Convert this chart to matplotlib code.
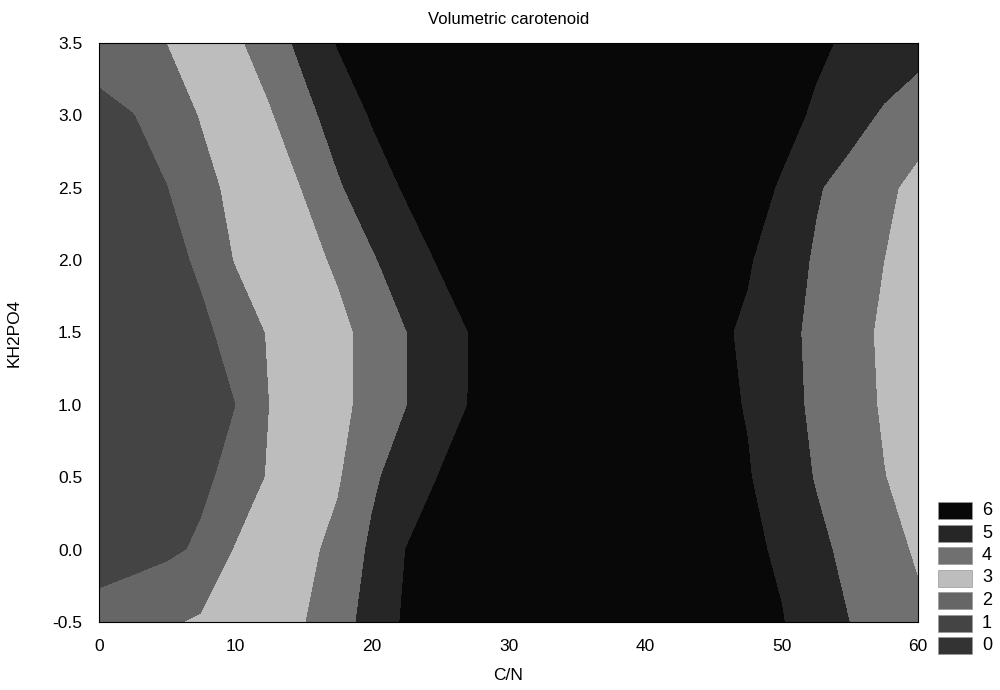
import numpy as np
import matplotlib
matplotlib.use("Agg")
import matplotlib.pyplot as plt
from matplotlib.patches import Rectangle

plt.rcParams['font.family'] = ['Liberation Sans', 'DejaVu Sans']

# ---- data ----
cn = [0, 2.5, 5, 7.5, 10, 12.5, 15, 17.5, 20, 22.5, 25, 27.5, 30, 32.5, 35,
      37.5, 40, 42.5, 45, 47.5, 50, 52.5, 55, 57.5, 60]
kh2po4 = [-0.5, 0.0, 0.5, 1.0, 1.5, 2.0, 2.5, 3.0, 3.5]

row_m05 = [1.5, 1.69, 1.88, 2.11, 2.39, 2.67, 2.96, 3.57, 4.38, 5.14, 5.48, 5.83, 6.0, 6.13, 6.15, 6.03, 5.9, 5.69, 5.47, 5.26, 5.04, 4.56, 3.99, 3.58, 3.15]
row_00 = [0.4, 0.61, 0.82, 1.13, 2.06, 2.40, 2.75, 3.26, 4.17, 5.01, 5.28, 5.54, 5.74, 5.85, 5.95, 5.85, 5.74, 5.58, 5.37, 5.16, 4.88, 4.25, 3.73, 3.27, 2.9]
row_05 = [0.15, 0.38, 0.60, 0.83, 1.25, 2.11, 2.5, 2.89, 3.82, 4.51, 5.04, 5.25, 5.47, 5.6, 5.67, 5.66, 5.58, 5.44, 5.25, 5.06, 4.56, 3.94, 3.48, 3.02, 2.7]
row_10 = [0.05, 0.29, 0.52, 0.76, 0.99, 2.0, 2.38, 2.77, 3.28, 3.97, 4.62, 5.09, 5.32, 5.52, 5.59, 5.64, 5.56, 5.45, 5.22, 4.95, 4.36, 3.81, 3.34, 2.91, 2.6]
row_15 = [0.05, 0.31, 0.56, 0.82, 1.28, 2.10, 2.44, 2.78, 3.26, 3.97, 4.59, 5.08, 5.31, 5.52, 5.59, 5.64, 5.56, 5.45, 5.19, 4.86, 4.3, 3.77, 3.29, 2.87, 2.55]
row_20 = [0.1, 0.41, 0.73, 1.13, 2.05, 2.39, 2.72, 3.12, 3.88, 4.57, 5.08, 5.30, 5.51, 5.65, 5.73, 5.78, 5.7, 5.62, 5.37, 5.09, 4.51, 3.88, 3.44, 3.0, 2.6]
row_25 = [0.2, 0.58, 0.97, 1.70, 2.23, 2.63, 3.03, 3.87, 4.58, 5.09, 5.33, 5.56, 5.73, 5.81, 5.89, 5.93, 5.84, 5.75, 5.58, 5.28, 4.93, 4.1, 3.61, 3.18, 2.75]
row_30 = [0.6, 0.96, 1.5, 2.05, 2.47, 2.90, 3.66, 4.45, 5.07, 5.33, 5.59, 5.82, 5.9, 5.98, 6.07, 6.05, 5.97, 5.88, 5.8, 5.51, 5.23, 4.9, 4.38, 3.87, 3.4]
row_35 = [1.6, 1.8, 2.0, 2.42, 2.83, 3.47, 4.28, 5.05, 5.33, 5.62, 5.9, 5.98, 6.05, 6.13, 6.2, 6.13, 6.05, 5.98, 5.9, 5.64, 5.39, 5.13, 4.88, 4.64, 4.4]

level_labels = ['0', '1', '2', '3', '4', '5', '6']
level_bounds = [-1, 0, 1, 2, 3, 4, 5, 7]
xticks = [0, 10, 20, 30, 40, 50, 60]
yticks = [-0.5, 0.0, 0.5, 1.0, 1.5, 2.0, 2.5, 3.0, 3.5]

# ---- styling ----
band_colors = ['#333333', '#444444', '#666666', '#bdbdbd', '#707070', '#262626', '#080808']

Z = np.array([row_m05, row_00, row_05, row_10, row_15, row_20, row_25, row_30, row_35])

W, H = 1000, 690
fig = plt.figure(figsize=(W / 100, H / 100), dpi=100)
ax = fig.add_axes([99 / W, (H - 622) / H, (918 - 99) / W, (622 - 43) / H])

ax.contourf(cn, kh2po4, Z, levels=level_bounds, colors=band_colors)
ax.set_xlim(0, 60)
ax.set_ylim(-0.5, 3.5)
ax.set_xticks(xticks)
ax.set_yticks(yticks)
ax.set_xticklabels([str(v) for v in xticks])
ax.set_yticklabels([f"{v:.1f}" for v in yticks])
ax.tick_params(length=0, labelsize=12.5, colors='black')
ax.tick_params(axis='x', pad=12)
ax.tick_params(axis='y', pad=12)
for s in ax.spines.values():
    s.set_linewidth(0.8)
    s.set_color('black')

ax.set_title('Volumetric carotenoid', fontsize=12, pad=14)
ax.set_xlabel('C/N', fontsize=12.5, labelpad=10)
ax.set_ylabel('KH2PO4', fontsize=12.5, labelpad=22)

# legend swatches (top = highest level)
sw_left, sw_w, sw_h, sw_step, sw_top = 938, 34, 17, 22.5, 502
for k, lab in enumerate(reversed(level_labels)):
    idx = len(level_labels) - 1 - k
    top = sw_top + k * sw_step
    fig.add_artist(Rectangle((sw_left / W, (H - top - sw_h) / H), sw_w / W, sw_h / H,
                             transform=fig.transFigure, facecolor=band_colors[idx],
                             edgecolor='#999999', linewidth=0.5))
    fig.text(982 / W, (H - top - sw_h / 2) / H, lab, fontsize=13,
             ha='left', va='center')

fig.savefig('out.png', dpi=100, facecolor='white')
